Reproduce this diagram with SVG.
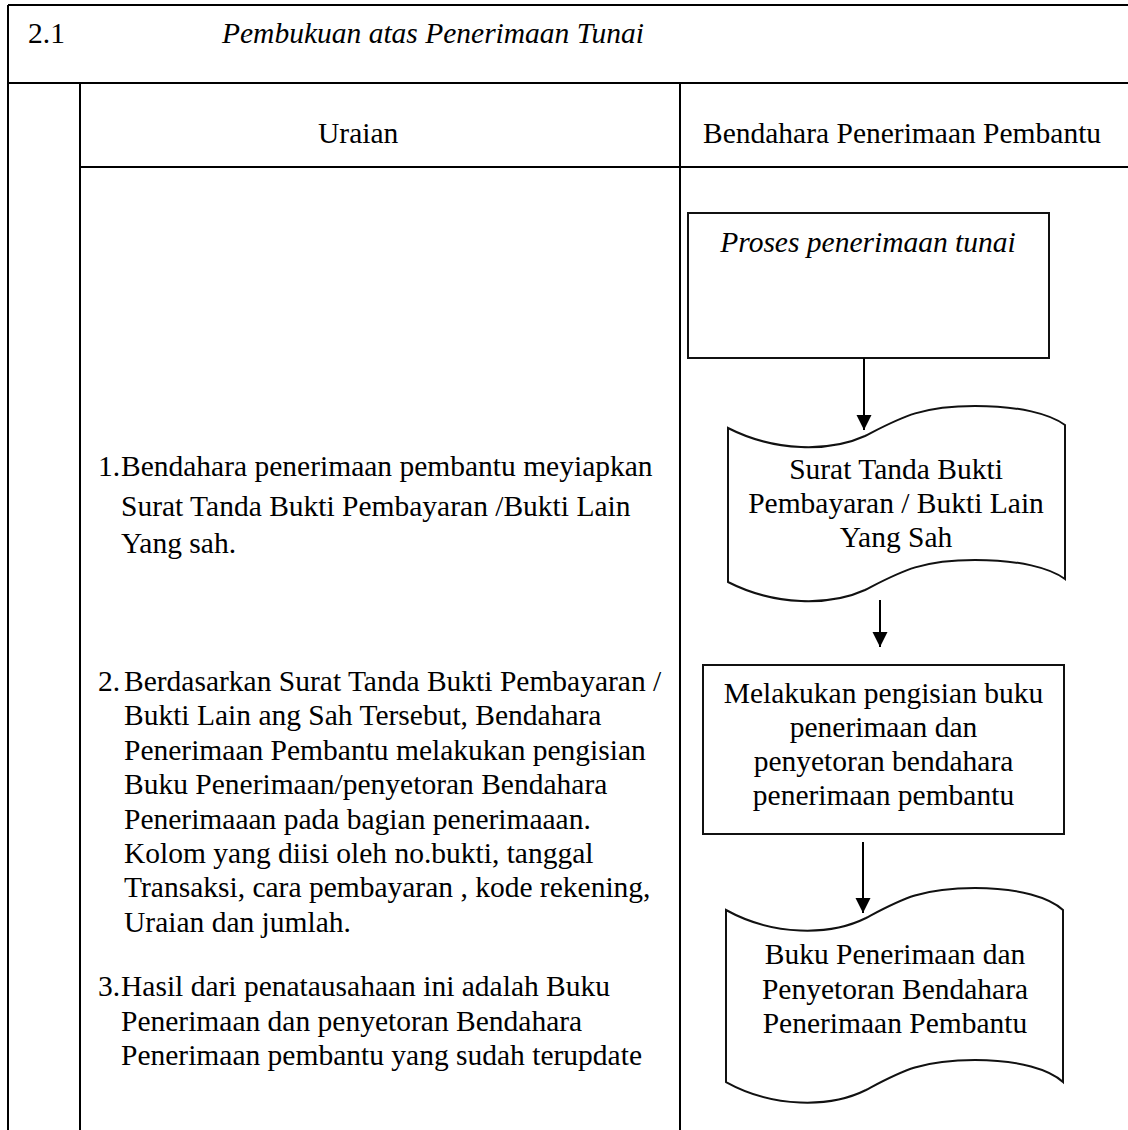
<svg xmlns="http://www.w3.org/2000/svg" width="1128" height="1130" viewBox="0 0 1128 1130">
  <style>
    .rule { stroke: #000; stroke-width: 2; fill: none; }
    .shape { stroke: #111; stroke-width: 2; fill: #fff; }
    .flow { stroke: #000; stroke-width: 2; fill: none; marker-end: url(#arrow); }
    text { font-family: "Liberation Serif", "Times New Roman", serif; font-size: 29.5px; fill: #000; }
    .it { font-style: italic; }
    .mid { text-anchor: middle; }
  </style>
  <defs>
    <marker id="arrow" markerUnits="userSpaceOnUse" markerWidth="16" markerHeight="16" refX="15" refY="7.5" orient="auto">
      <path d="M0,0 L15,7.5 L0,15 Z" fill="#000"/>
    </marker>
  </defs>
  <rect width="1128" height="1130" fill="#fff"/>

  <!-- table frame -->
  <g id="table">
    <line class="rule" x1="8" y1="5" x2="1128" y2="5"/>
    <line class="rule" x1="8" y1="5" x2="8" y2="1130"/>
    <line class="rule" x1="8" y1="83" x2="1128" y2="83"/>
    <line class="rule" x1="80" y1="83" x2="80" y2="1130"/>
    <line class="rule" x1="680" y1="83" x2="680" y2="1130"/>
    <line class="rule" x1="80" y1="167" x2="1128" y2="167"/>
    <text x="28" y="43">2.1</text>
    <text class="it" x="222" y="43">Pembukuan atas Penerimaan Tunai</text>
    <text x="318" y="143">Uraian</text>
    <text x="703" y="143">Bendahara Penerimaan Pembantu</text>
  </g>

  <!-- description column -->
  <g id="uraian-1">
    <text x="98" y="476">1.</text>
    <text x="121" y="476">Bendahara penerimaan pembantu meyiapkan</text>
    <text x="121" y="516">Surat Tanda Bukti Pembayaran /Bukti Lain</text>
    <text x="121" y="553">Yang sah.</text>
  </g>
  <g id="uraian-2">
    <text x="98" y="691">2.</text>
    <text x="124" y="691">Berdasarkan Surat Tanda Bukti Pembayaran /</text>
    <text x="124" y="725">Bukti Lain ang Sah Tersebut, Bendahara</text>
    <text x="124" y="760">Penerimaan Pembantu melakukan pengisian</text>
    <text x="124" y="794">Buku Penerimaan/penyetoran Bendahara</text>
    <text x="124" y="829">Penerimaaan pada bagian penerimaaan.</text>
    <text x="124" y="863">Kolom yang diisi oleh no.bukti, tanggal</text>
    <text x="124" y="897">Transaksi, cara pembayaran , kode rekening,</text>
    <text x="124" y="932">Uraian dan jumlah.</text>
  </g>
  <g id="uraian-3">
    <text x="98" y="996">3.</text>
    <text x="121" y="996">Hasil dari penatausahaan ini adalah Buku</text>
    <text x="121" y="1031">Penerimaan dan penyetoran Bendahara</text>
    <text x="121" y="1065">Penerimaan pembantu yang sudah terupdate</text>
  </g>

  <!-- flow nodes -->
  <g id="proses-penerimaan">
    <rect class="shape" x="688" y="213" width="361" height="145"/>
    <text class="it mid" x="868" y="252">Proses penerimaan tunai</text>
  </g>
  <g id="surat-tanda-bukti">
    <path class="shape" d="M728,428 C775,452 830,452 865,436 C900,418 920,406 975,406 C1020,406 1050,414 1065,425 L1065,579 C1050,568 1020,560 975,560 C920,560 900,572 865,590 C830,606 775,606 728,582 Z"/>
    <text class="mid" x="896" y="479">Surat Tanda Bukti</text>
    <text class="mid" x="896" y="513">Pembayaran / Bukti Lain</text>
    <text class="mid" x="896" y="547">Yang Sah</text>
  </g>
  <g id="pengisian-buku">
    <rect class="shape" x="703" y="665" width="361" height="169"/>
    <text class="mid" x="883.5" y="703">Melakukan pengisian buku</text>
    <text class="mid" x="883.5" y="737">penerimaan dan</text>
    <text class="mid" x="883.5" y="771">penyetoran bendahara</text>
    <text class="mid" x="883.5" y="805">penerimaan pembantu</text>
  </g>
  <g id="buku-penerimaan">
    <path class="shape" d="M726,910 C773,936 830,936 866,918 C900,900 920,888 975,888 C1020,888 1050,898 1063,910 L1063,1082 C1050,1070 1020,1060 975,1060 C920,1060 900,1072 866,1090 C830,1108 773,1108 726,1082 Z"/>
    <text class="mid" x="895" y="964">Buku Penerimaan dan</text>
    <text class="mid" x="895" y="999">Penyetoran Bendahara</text>
    <text class="mid" x="895" y="1033">Penerimaan Pembantu</text>
  </g>

  <!-- connectors -->
  <g id="connectors">
    <line class="flow" x1="864" y1="358" x2="864" y2="430"/>
    <line class="flow" x1="880" y1="600" x2="880" y2="647"/>
    <line class="flow" x1="863" y1="842" x2="863" y2="913"/>
  </g>
</svg>
